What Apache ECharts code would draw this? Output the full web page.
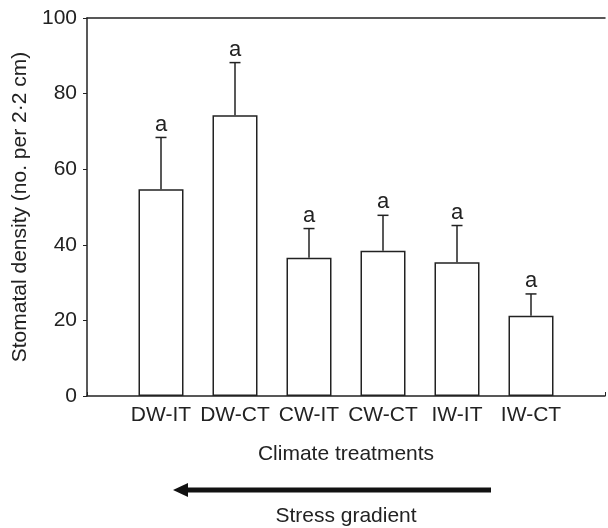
<!DOCTYPE html>
<html>
<head>
<meta charset="utf-8">
<script src="https://cdn.jsdelivr.net/npm/echarts@6/dist/echarts.min.js"></script>
<style>
html,body{margin:0;padding:0;background:#fff;}
#c{width:608px;height:528px;}
</style>
</head>
<body>
<div id="c"></div>
<script>
const categories = ['DW-IT', 'DW-CT', 'CW-IT', 'CW-CT', 'IW-IT', 'IW-CT'];
const means = [54.7, 74.3, 36.6, 38.4, 35.4, 21.2];
const upperErr = [68.4, 88.2, 44.3, 47.8, 45.1, 27.0];
const letters = ['a', 'a', 'a', 'a', 'a', 'a'];
const yTicks = [0, 20, 40, 60, 80, 100];

const FONT = "'Liberation Sans', Arial, Helvetica, sans-serif";
const INK = '#222';
const FS = 21;

const chart = echarts.init(document.getElementById('c'), null, {renderer: 'canvas'});

const barData = means.map((v, i) => [i + 1, v]);
const errData = means.map((v, i) => [i + 1, v, upperErr[i], letters[i]]);

chart.setOption({
  animation: false,
  backgroundColor: '#fff',
  textStyle: {fontFamily: FONT},
  grid: {left: 87, top: 18, bottom: 132, right: -3},
  xAxis: [{
    type: 'value', min: 0, max: 7, interval: 1,
    name: 'Climate treatments', nameLocation: 'middle', nameGap: 48,
    nameTextStyle: {fontSize: FS, color: INK, fontFamily: FONT},
    axisLine: {show: true, lineStyle: {color: INK, width: 1.5}},
    axisTick: {show: true, inside: true, length: 4, lineStyle: {color: INK, width: 1}},
    splitLine: {show: false},
    axisLabel: {
      fontSize: FS, color: INK, margin: 9, fontFamily: FONT,
      formatter: v => (v >= 1 && v <= categories.length) ? categories[v - 1] : ''
    }
  }, {
    type: 'value', position: 'top', min: 0, max: 7,
    axisLine: {show: true, lineStyle: {color: INK, width: 1.5}},
    axisTick: {show: false}, axisLabel: {show: false}, splitLine: {show: false}
  }],
  yAxis: {
    type: 'value', min: yTicks[0], max: yTicks[yTicks.length - 1], interval: 20,
    name: 'Stomatal density (no. per 2·2 cm)', nameLocation: 'middle', nameGap: 54,
    nameTextStyle: {fontSize: FS, color: INK, fontFamily: FONT},
    axisLine: {show: true, lineStyle: {color: INK, width: 1.5}},
    axisTick: {show: true, inside: false, length: 4, lineStyle: {color: INK, width: 1}},
    splitLine: {show: false},
    axisLabel: {fontSize: FS, color: INK, margin: 10, fontFamily: FONT}
  },
  series: [{
    type: 'bar',
    data: barData,
    barWidth: 45,
    itemStyle: {color: '#fff', borderColor: INK, borderWidth: 1.5}
  }, {
    type: 'custom',
    data: errData,
    z: 5,
    renderItem: function (params, api) {
      const x = api.value(0);
      const base = api.coord([x, api.value(1)]);
      const top = api.coord([x, api.value(2)]);
      const letter = letters[params.dataIndex];
      return {
        type: 'group',
        children: [{
          type: 'line',
          shape: {x1: base[0], y1: base[1], x2: top[0], y2: top[1]},
          style: {stroke: INK, lineWidth: 1.5}
        }, {
          type: 'line',
          shape: {x1: top[0] - 5.5, y1: top[1], x2: top[0] + 5.5, y2: top[1]},
          style: {stroke: INK, lineWidth: 1.5}
        }, {
          type: 'text',
          style: {
            text: letter, x: top[0], y: top[1] - 2,
            textAlign: 'center', textVerticalAlign: 'bottom',
            fontSize: 22, fill: INK, fontFamily: FONT
          }
        }]
      };
    }
  }],
  graphic: [{
    type: 'line',
    shape: {x1: 491, y1: 490, x2: 184, y2: 490},
    style: {stroke: '#111', lineWidth: 5}
  }, {
    type: 'polygon',
    shape: {points: [[173, 490], [188, 483], [188, 497]]},
    style: {fill: '#111'}
  }, {
    type: 'text',
    style: {
      text: 'Stress gradient', x: 346, y: 516,
      textAlign: 'center', textVerticalAlign: 'middle',
      fontSize: FS, fill: INK, fontFamily: FONT
    }
  }]
});
</script>
</body>
</html>
